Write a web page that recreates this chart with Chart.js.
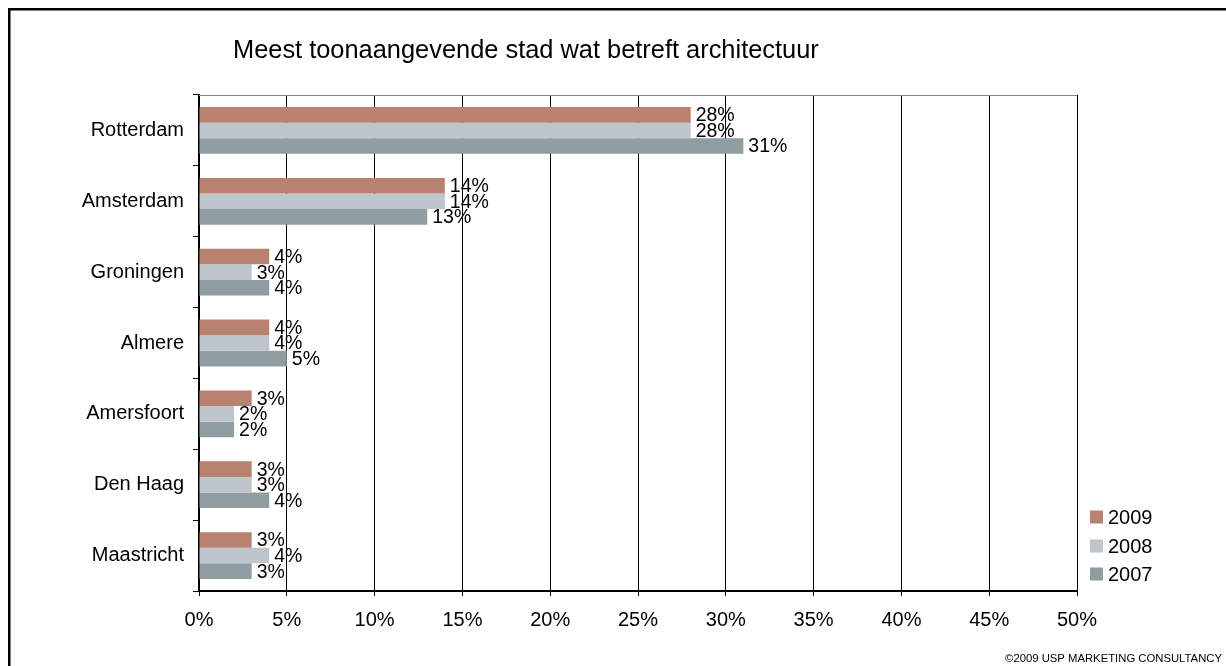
<!DOCTYPE html>
<html>
<head>
<meta charset="utf-8">
<script src="https://cdn.jsdelivr.net/npm/chart.js@4/dist/chart.umd.min.js"></script>
<style>
  html, body { margin: 0; padding: 0; background: #fff; }
  #chart { display: block; }
</style>
</head>
<body>
<canvas id="chart" width="1226" height="666"></canvas>
<script>
// steden en percentages per jaar
const cities = ["Rotterdam", "Amsterdam", "Groningen", "Almere", "Amersfoort", "Den Haag", "Maastricht"];
const years = ["2009", "2008", "2007"];
const values2009 = [28, 14, 4, 4, 3, 3, 3];
const values2008 = [28, 14, 3, 4, 2, 3, 4];
const values2007 = [31, 13, 4, 5, 2, 4, 3];
const xTicks = [0, 5, 10, 15, 20, 25, 30, 35, 40, 45, 50];

const titleText = "Meest toonaangevende stad wat betreft architectuur";
const footerText = "©2009 USP MARKETING CONSULTANCY";
const FONT = 'Arial, "Liberation Sans", sans-serif';

// kader, titel, legenda en waarden naast de balken
const extras = {
    id: "extras",
    beforeDraw(chart) {
        const ctx = chart.ctx;
        ctx.save();
        ctx.fillStyle = "#fff";
        ctx.fillRect(0, 0, chart.width, chart.height);
        ctx.fillStyle = "#000";
        ctx.fillRect(8, 8, chart.width, 2.5);
        ctx.fillRect(8, 8, 2.5, chart.height);
        ctx.restore();
    },
    afterDatasetsDraw(chart) {
        const ctx = chart.ctx;
        const area = chart.chartArea;
        ctx.save();

        // bovenrand plotgebied
        ctx.strokeStyle = "#888";
        ctx.lineWidth = 1;
        ctx.beginPath();
        ctx.moveTo(area.left, area.top + 0.5);
        ctx.lineTo(area.right, area.top + 0.5);
        ctx.stroke();

        // waarden
        ctx.font = "19.5px " + FONT;
        ctx.fillStyle = "#000";
        ctx.textAlign = "left";
        ctx.textBaseline = "middle";
        chart.data.datasets.forEach((ds, i) => {
            const meta = chart.getDatasetMeta(i);
            meta.data.forEach((bar, j) => {
                ctx.fillText(ds.data[j] + "%", bar.x + 5, bar.y + 1);
            });
        });

        // titel
        ctx.font = "25.4px " + FONT;
        ctx.fillText(titleText, 233, 51);

        // legenda
        ctx.font = "20px " + FONT;
        const legendY = [517, 546, 574];
        chart.data.datasets.forEach((ds, i) => {
            ctx.fillStyle = ds.backgroundColor;
            ctx.fillRect(1090, legendY[i] - 6.5, 13, 13);
            ctx.fillStyle = "#000";
            ctx.fillText(ds.label, 1108, legendY[i] + 1);
        });

        // copyright
        ctx.font = "11.3px " + FONT;
        ctx.textAlign = "right";
        ctx.fillText(footerText, 1222, 659);
        ctx.restore();
    }
};

new Chart(document.getElementById("chart"), {
    type: "bar",
    plugins: [extras],
    data: {
        labels: cities,
        datasets: [
            { label: years[0], data: values2009, backgroundColor: "#B98170" },
            { label: years[1], data: values2008, backgroundColor: "#BEC6CC" },
            { label: years[2], data: values2007, backgroundColor: "#909DA1" }
        ]
    },
    options: {
        indexAxis: "y",
        responsive: false,
        animation: false,
        devicePixelRatio: 1,
        categoryPercentage: 0.66,
        barPercentage: 1,
        layout: { padding: { top: 95, right: 149, bottom: 0, left: 0 } },
        plugins: {
            legend: { display: false },
            title: { display: false },
            tooltip: { enabled: false }
        },
        scales: {
            x: {
                min: 0,
                max: 50,
                afterFit: (scale) => { scale.height = 75; },
                afterBuildTicks: (scale) => { scale.ticks = xTicks.map(v => ({ value: v })); },
                grid: { color: "#000", lineWidth: 1, tickLength: 5, tickColor: "#000" },
                border: { color: "#000", width: 2 },
                ticks: {
                    color: "#000",
                    font: { family: FONT, size: 20 },
                    padding: 12,
                    callback: (v) => v + "%"
                }
            },
            y: {
                afterFit: (scale) => { scale.width = 199; },
                grid: { drawOnChartArea: false, tickLength: 6, tickColor: "#000", offset: true },
                border: { color: "#000", width: 2 },
                ticks: {
                    color: "#000",
                    font: { family: FONT, size: 20 },
                    padding: 9
                }
            }
        }
    }
});
</script>
</body>
</html>
